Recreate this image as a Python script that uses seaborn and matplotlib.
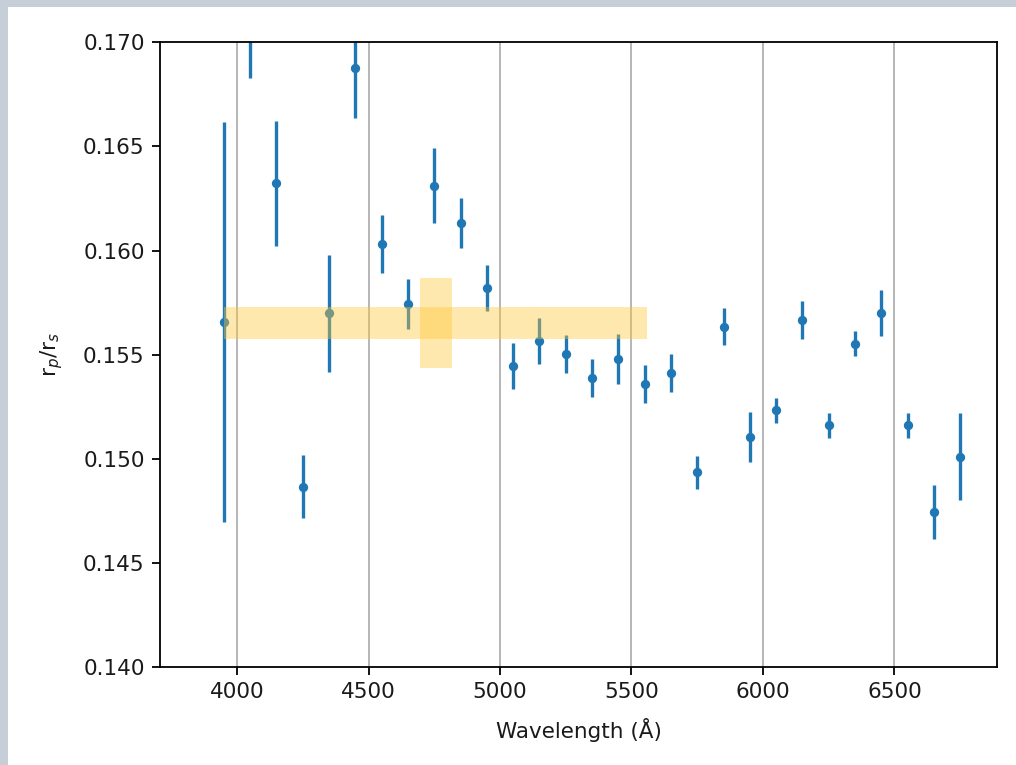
import numpy as np
import pandas as pd
import matplotlib
matplotlib.use('Agg')
import matplotlib.pyplot as plt
from matplotlib.patches import Rectangle
import seaborn as sns

# Данные: длина волны (Å), отношение радиусов и ошибки
wavelength = [3950, 4050, 4150, 4250, 4350, 4450, 4550, 4650, 4750, 4850,
              4950, 5050, 5150, 5250, 5350, 5450, 5550, 5650, 5750, 5850,
              5950, 6050, 6150, 6250, 6350, 6450, 6550, 6650, 6750]
rp_rs = [0.15658, 0.1717, 0.16323, 0.14866, 0.15699, 0.16878, 0.16031, 0.15742, 0.16310, 0.16131,
         0.15822, 0.15446, 0.15567, 0.15502, 0.15389, 0.15479, 0.15358, 0.15413, 0.14935, 0.15634,
         0.15103, 0.15234, 0.15666, 0.15162, 0.15553, 0.15699, 0.15162, 0.14746, 0.15010]
rp_rs_err = [0.0096, 0.0034, 0.0030, 0.0015, 0.0028, 0.0024, 0.0014, 0.0012, 0.0018, 0.0012,
             0.0011, 0.0011, 0.0011, 0.0009, 0.0009, 0.0012, 0.0009, 0.0009, 0.0008, 0.0009,
             0.0012, 0.0006, 0.0009, 0.0006, 0.0006, 0.0011, 0.0006, 0.0013, 0.0021]

# Широкополосное значение (подсветка)
white_wl = 4755
white_wl_half = 805
white_rp = 0.15651
white_rp_err = 0.00215

df = pd.DataFrame({'wavelength': wavelength, 'rp_rs': rp_rs, 'err': rp_rs_err})

sns.set_style('ticks')
plt.rcParams['font.family'] = ['DejaVu Sans']
plt.rcParams['mathtext.fontset'] = 'dejavusans'

fig = plt.figure(figsize=(10.16, 7.65), dpi=100)
fig.set_facecolor('#c6cfd7')
fig.patches.append(Rectangle((8 / 1016, 0), 1, 1 - 7 / 765, transform=fig.transFigure,
                             facecolor='white', edgecolor='none', zorder=-1))

ax = fig.add_axes([160 / 1016, 1 - 667 / 765, (997 - 160) / 1016, (667 - 42.3) / 765])

ax.errorbar(df['wavelength'], df['rp_rs'], yerr=df['err'], fmt='none',
            ecolor='#1f77b4', elinewidth=2.4, zorder=2)
sns.scatterplot(data=df, x='wavelength', y='rp_rs', ax=ax, color='#1f77b4',
                s=45, edgecolor='#1f77b4', linewidth=0, zorder=3, legend=False)

ax.errorbar([white_wl], [white_rp], xerr=[white_wl_half], yerr=[white_rp_err], fmt='none',
            ecolor=(1.0, 0.78, 0.2), elinewidth=23, alpha=0.4, zorder=4)

ax.set_xlim(3707, 6890)
ax.set_ylim(0.140, 0.170)
ax.set_xticks(np.arange(4000, 6501, 500))
ax.set_yticks(np.arange(0.140, 0.1701, 0.005))
ax.yaxis.set_major_formatter(matplotlib.ticker.FormatStrFormatter('%.3f'))
ax.grid(axis='x', color='#b0b0b0', linewidth=1.3)
ax.set_axisbelow(True)

for s in ax.spines.values():
    s.set_linewidth(1.3)
    s.set_color('black')
ax.tick_params(labelsize=15.5, length=5.5, width=1.3, pad=5.5, color='black', labelcolor='#1a1a1a')

ax.set_xlabel('Wavelength (Å)', fontsize=15.5, labelpad=11, color='#1a1a1a')
ax.set_ylabel(r'r$_p$/r$_s$', fontsize=15.5, labelpad=13, color='#1a1a1a')

fig.savefig('out.png', dpi=100, facecolor=fig.get_facecolor())
